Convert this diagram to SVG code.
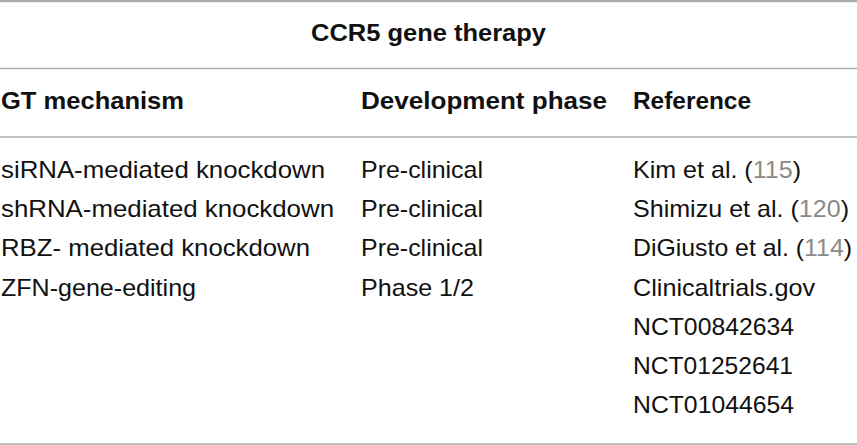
<svg xmlns="http://www.w3.org/2000/svg" width="857" height="445" viewBox="0 0 857 445">
<style>
text{font-family:"Liberation Sans",Arial,Helvetica,sans-serif;font-size:24px;fill:#111}
.b{font-weight:bold}
.n{fill:#8a8a8a}
.rule{stroke:#ababab;stroke-width:1.6}
</style>
<rect width="857" height="445" fill="#fff"/>
<g id="rules">
<line class="rule" x1="0" y1="1" x2="857" y2="1" style="stroke-width:2.4"/>
<line class="rule" x1="0" y1="68.5" x2="857" y2="68.5"/>
<line class="rule" x1="0" y1="137" x2="857" y2="137"/>
<line class="rule" x1="0" y1="444" x2="857" y2="444"/>
</g>
<g id="title"><text class="b" x="311" y="41" textLength="235" lengthAdjust="spacingAndGlyphs">CCR5 gene therapy</text></g>
<g id="header">
<text class="b" x="1" y="108.5" textLength="183" lengthAdjust="spacingAndGlyphs">GT mechanism</text>
<text class="b" x="361" y="108.5" textLength="246" lengthAdjust="spacingAndGlyphs">Development phase</text>
<text class="b" x="633" y="108.5" textLength="118" lengthAdjust="spacingAndGlyphs">Reference</text>
</g>
<g id="row1">
<text x="1" y="177.5" textLength="324" lengthAdjust="spacingAndGlyphs">siRNA-mediated knockdown</text>
<text x="361" y="177.5" textLength="122" lengthAdjust="spacingAndGlyphs">Pre-clinical</text>
<text x="633" y="177.5" textLength="168" lengthAdjust="spacingAndGlyphs">Kim et al. (<tspan class="n">115</tspan>)</text>
</g>
<g id="row2">
<text x="1" y="216.5" textLength="333" lengthAdjust="spacingAndGlyphs">shRNA-mediated knockdown</text>
<text x="361" y="216.5" textLength="122" lengthAdjust="spacingAndGlyphs">Pre-clinical</text>
<text x="633" y="216.5" textLength="216" lengthAdjust="spacingAndGlyphs">Shimizu et al. (<tspan class="n">120</tspan>)</text>
</g>
<g id="row3">
<text x="1" y="256" textLength="309" lengthAdjust="spacingAndGlyphs">RBZ- mediated knockdown</text>
<text x="361" y="256" textLength="122" lengthAdjust="spacingAndGlyphs">Pre-clinical</text>
<text x="633" y="256" textLength="219" lengthAdjust="spacingAndGlyphs">DiGiusto et al. (<tspan class="n">114</tspan>)</text>
</g>
<g id="row4">
<text x="1" y="295.5" textLength="195" lengthAdjust="spacingAndGlyphs">ZFN-gene-editing</text>
<text x="361" y="295.5" textLength="113" lengthAdjust="spacingAndGlyphs">Phase 1/2</text>
<text x="633" y="295.5" textLength="182" lengthAdjust="spacingAndGlyphs">Clinicaltrials.gov</text>
<text x="633" y="334.5" textLength="161" lengthAdjust="spacingAndGlyphs">NCT00842634</text>
<text x="633" y="374" textLength="160" lengthAdjust="spacingAndGlyphs">NCT01252641</text>
<text x="633" y="413" textLength="161" lengthAdjust="spacingAndGlyphs">NCT01044654</text>
</g>
</svg>
